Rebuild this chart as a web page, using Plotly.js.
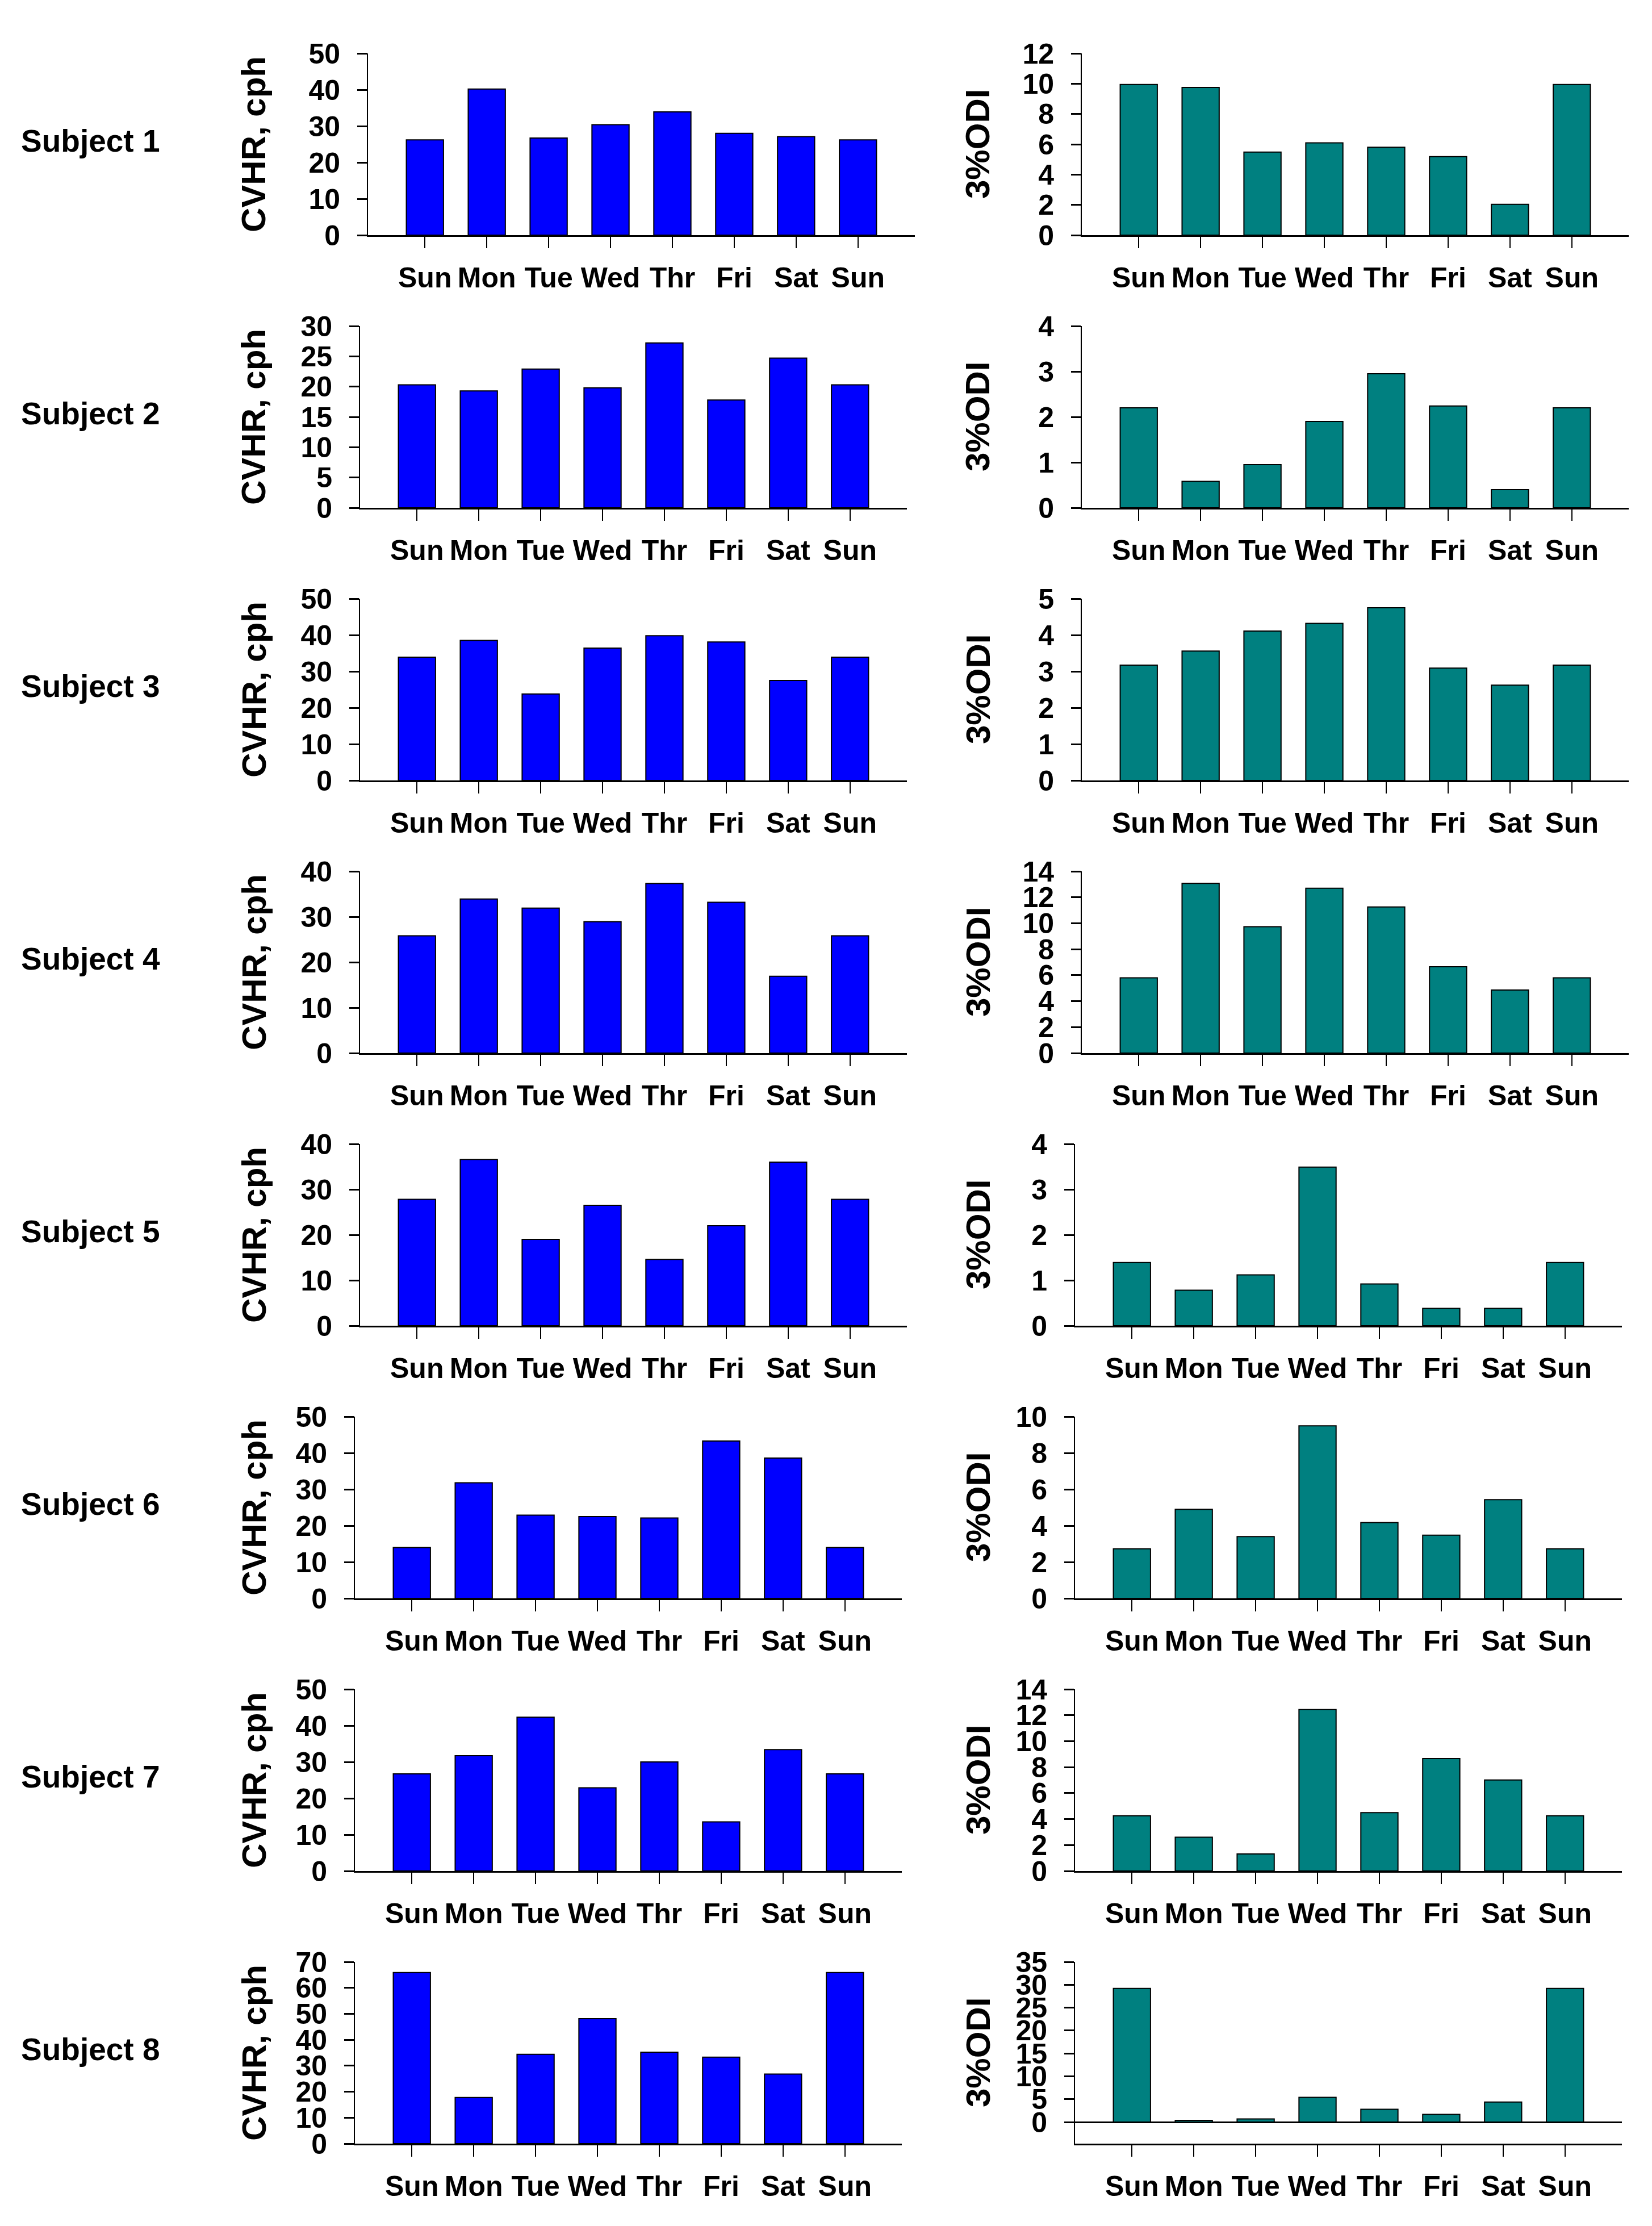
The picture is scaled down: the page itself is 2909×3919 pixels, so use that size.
<!DOCTYPE html>
<html>
<head>
<meta charset="utf-8">
<script src="https://cdn.plot.ly/plotly-3.0.1.min.js"></script>
<style>html,body{margin:0;padding:0;background:#fff;}#chart{width:2909px;height:3919px;}</style>
</head>
<body>
<div id="chart"></div>
<script>
// ---- data ----
const dayLabels = ['Sun','Mon','Tue','Wed','Thr','Fri','Sat','Sun'];
const subjects = ['Subject 1','Subject 2','Subject 3','Subject 4','Subject 5','Subject 6','Subject 7','Subject 8'];

const cvhr1 = [26.2, 40.2, 26.7, 30.4, 33.9, 28.0, 27.1, 26.2];
const cvhr2 = [20.3, 19.3, 22.9, 19.8, 27.2, 17.8, 24.7, 20.3];
const cvhr3 = [33.9, 38.5, 23.8, 36.4, 39.8, 38.1, 27.5, 33.9];
const cvhr4 = [25.8, 33.9, 31.9, 28.9, 37.3, 33.2, 16.9, 25.8];
const cvhr5 = [27.8, 36.6, 19.0, 26.5, 14.6, 22.0, 36.0, 27.8];
const cvhr6 = [14.0, 31.8, 22.9, 22.5, 22.1, 43.3, 38.6, 14.0];
const cvhr7 = [26.7, 31.7, 42.3, 22.9, 30.0, 13.5, 33.4, 26.7];
const cvhr8 = [65.9, 17.8, 34.4, 48.1, 35.2, 33.3, 26.8, 65.9];

const odi1 = [9.95, 9.75, 5.48, 6.09, 5.8, 5.18, 2.03, 9.95];
const odi2 = [2.2, 0.58, 0.95, 1.9, 2.95, 2.24, 0.40, 2.2];
const odi3 = [3.17, 3.56, 4.11, 4.32, 4.75, 3.09, 2.62, 3.17];
const odi4 = [5.8, 13.07, 9.73, 12.7, 11.26, 6.65, 4.86, 5.8];
const odi5 = [1.39, 0.78, 1.12, 3.49, 0.92, 0.38, 0.38, 1.39];
const odi6 = [2.73, 4.9, 3.4, 9.49, 4.17, 3.48, 5.43, 2.73];
const odi7 = [4.26, 2.6, 1.31, 12.44, 4.5, 8.66, 7.01, 4.26];
const odi8 = [29.2, 0.4, 0.7, 5.4, 2.8, 1.7, 4.4, 29.2];

// axis scales (max, step) per subject
const cvhrMax = [50, 30, 50, 40, 40, 50, 50, 70];
const cvhrStep = [10, 5, 10, 10, 10, 10, 10, 10];
const odiMax = [12, 4, 5, 14, 4, 10, 14, 35];
const odiStep = [2, 1, 1, 2, 1, 2, 2, 5];
const odiMin = [0, 0, 0, 0, 0, 0, 0, -4.7];

const cvhrAll = [cvhr1, cvhr2, cvhr3, cvhr4, cvhr5, cvhr6, cvhr7, cvhr8];
const odiAll = [odi1, odi2, odi3, odi4, odi5, odi6, odi7, odi8];

// ---- layout helpers ----
const W = 2909, H = 3919;
const FONT = 'Liberation Sans, Arial, sans-serif';
const px = x => x / W;
const py = y => 1 - y / H;
const plotW = 963, plotH = 320;
const leftX0 = [648, 634, 634, 634, 634, 625, 625, 625];
const rightX0 = [1905, 1905, 1905, 1905, 1893, 1893, 1893, 1893];
const rowTop = r => 94 + 480 * r;
const xIdx = dayLabels.map((d, i) => i);

function ticks(min, max, step) {
  const out = [];
  for (let v = 0; v <= max + 1e-9; v += step) out.push(Math.round(v * 100) / 100);
  return out;
}

const data = [];
const layout = {
  width: W, height: H,
  margin: {l: 0, r: 0, t: 0, b: 0},
  paper_bgcolor: '#ffffff', plot_bgcolor: 'rgba(0,0,0,0)',
  showlegend: false,
  bargap: 0.4,
  annotations: []
};

const tickFont = {family: FONT, size: 50, color: '#000', weight: 700};

for (let r = 0; r < 8; r++) {
  const top = rowTop(r), bottom = top + plotH;
  const yDom = [py(bottom), py(top)];
  const pairs = [
    {vals: cvhrAll[r], color: '#0000FF', x0: leftX0[r], min: 0, max: cvhrMax[r], step: cvhrStep[r]},
    {vals: odiAll[r], color: '#008080', x0: rightX0[r], min: odiMin[r], max: odiMax[r], step: odiStep[r]}
  ];
  pairs.forEach((p, c) => {
    const n = r * 2 + c + 1;
    const xa = 'xaxis' + (n === 1 ? '' : n), ya = 'yaxis' + (n === 1 ? '' : n);
    const xr = 'x' + (n === 1 ? '' : n), yr = 'y' + (n === 1 ? '' : n);
    data.push({
      type: 'bar', x: xIdx, y: p.vals, xaxis: xr, yaxis: yr,
      width: 0.6,
      marker: {color: p.color, line: {color: '#000', width: 2}},
      hoverinfo: 'skip'
    });
    layout[xa] = {
      domain: [px(p.x0), px(p.x0 + plotW)], anchor: yr,
      range: [-0.92, 7.92],
      tickmode: 'array', tickvals: xIdx, ticktext: dayLabels,
      ticks: 'outside', ticklen: 20, tickwidth: 2, tickcolor: '#000',
      showline: true, linecolor: '#000', linewidth: 3,
      showgrid: false, zeroline: false,
      tickfont: tickFont, ticklabelstandoff: 9, fixedrange: true
    };
    layout[ya] = {
      domain: yDom, anchor: xr,
      range: [p.min, p.max],
      tickmode: 'array', tickvals: ticks(p.min, p.max, p.step),
      ticks: 'outside', ticklen: 17, tickwidth: 3, tickcolor: '#000',
      showline: true, linecolor: '#000', linewidth: 2,
      showgrid: false,
      zeroline: p.min < 0, zerolinecolor: '#000', zerolinewidth: 3,
      tickfont: tickFont, ticklabelstandoff: 20, fixedrange: true
    };
  });
  const mid = top + plotH / 2;
  layout.annotations.push({
    xref: 'paper', yref: 'paper', x: px(35), y: py(mid - 6),
    xanchor: 'left', yanchor: 'middle', showarrow: false,
    text: subjects[r], font: {family: FONT, size: 55, color: '#000', weight: 700}
  });
  layout.annotations.push({
    xref: 'paper', yref: 'paper', x: px(447), y: py(mid),
    xanchor: 'center', yanchor: 'middle', showarrow: false, textangle: -90,
    text: 'CVHR, cph', font: {family: FONT, size: 60, color: '#000', weight: 700}
  });
  layout.annotations.push({
    xref: 'paper', yref: 'paper', x: px(1722), y: py(mid),
    xanchor: 'center', yanchor: 'middle', showarrow: false, textangle: -90,
    text: '3%ODI', font: {family: FONT, size: 60, color: '#000', weight: 700}
  });
}

Plotly.newPlot('chart', data, layout, {displayModeBar: false, staticPlot: true});
</script>
</body>
</html>
